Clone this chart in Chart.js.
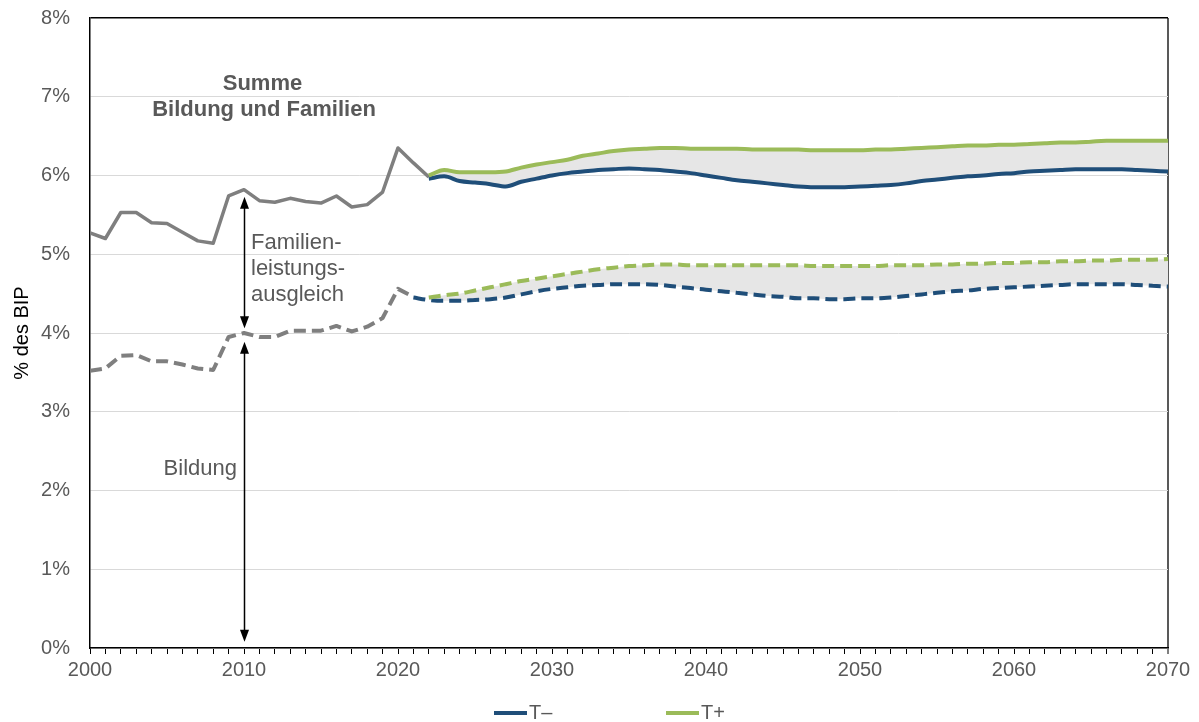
<!DOCTYPE html>
<html>
<head>
<meta charset="utf-8">
<script src="https://cdn.jsdelivr.net/npm/chart.js@4/dist/chart.umd.min.js"></script>
<style>
  html, body { margin: 0; padding: 0; background: #fff; }
  #chart { display: block; }
</style>
</head>
<body>
<canvas id="chart" width="1199" height="722"></canvas>
<script>
// history 2000-2022
const histYears = [2000, 2001, 2002, 2003, 2004, 2005, 2006, 2007, 2008, 2009, 2010,
    2011, 2012, 2013, 2014, 2015, 2016, 2017, 2018, 2019, 2020, 2021, 2022];
const summeHist = [5.27, 5.20, 5.53, 5.53, 5.40, 5.39, 5.28, 5.17, 5.14, 5.74, 5.82,
    5.68, 5.66, 5.71, 5.67, 5.65, 5.74, 5.60, 5.63, 5.79, 6.35, 6.16, 5.98];
const bildungHist = [3.52, 3.55, 3.71, 3.72, 3.64, 3.64, 3.60, 3.55, 3.53, 3.95, 4.00,
    3.95, 3.95, 4.03, 4.03, 4.03, 4.09, 4.02, 4.08, 4.19, 4.56, 4.46, null];

// projections 2021-2070
const projYears = [2021, 2022, 2023, 2024, 2025, 2026, 2027, 2028, 2029, 2030,
    2031, 2032, 2033, 2034, 2035, 2036, 2037, 2038, 2039, 2040,
    2041, 2042, 2043, 2044, 2045, 2046, 2047, 2048, 2049, 2050,
    2051, 2052, 2053, 2054, 2055, 2056, 2057, 2058, 2059, 2060,
    2061, 2062, 2063, 2064, 2065, 2066, 2067, 2068, 2069, 2070];
const tPlusSumme = [null, 6.00, 6.07, 6.04, 6.04, 6.04, 6.05, 6.10, 6.14, 6.17,
    6.20, 6.25, 6.28, 6.31, 6.33, 6.34, 6.35, 6.35, 6.34, 6.34,
    6.34, 6.34, 6.33, 6.33, 6.33, 6.33, 6.32, 6.32, 6.32, 6.32,
    6.33, 6.33, 6.34, 6.35, 6.36, 6.37, 6.38, 6.38, 6.39, 6.39,
    6.40, 6.41, 6.42, 6.42, 6.43, 6.44, 6.44, 6.44, 6.44, 6.44];
const tMinusSumme = [null, 5.96, 5.99, 5.93, 5.91, 5.89, 5.86, 5.92, 5.96, 6.00,
    6.03, 6.05, 6.07, 6.08, 6.09, 6.08, 6.07, 6.05, 6.03, 6.00,
    5.97, 5.94, 5.92, 5.90, 5.88, 5.86, 5.85, 5.85, 5.85, 5.86,
    5.87, 5.88, 5.90, 5.93, 5.95, 5.97, 5.99, 6.00, 6.02, 6.03,
    6.05, 6.06, 6.07, 6.08, 6.08, 6.08, 6.08, 6.07, 6.06, 6.05];
const tPlusBildung = [null, 4.45, 4.48, 4.50, 4.54, 4.58, 4.62, 4.66, 4.69, 4.72,
    4.75, 4.78, 4.81, 4.83, 4.85, 4.86, 4.87, 4.87, 4.86, 4.86,
    4.86, 4.86, 4.86, 4.86, 4.86, 4.86, 4.85, 4.85, 4.85, 4.85,
    4.85, 4.86, 4.86, 4.86, 4.87, 4.87, 4.88, 4.88, 4.89, 4.89,
    4.90, 4.90, 4.91, 4.91, 4.92, 4.92, 4.93, 4.93, 4.93, 4.94];
const tMinusBildung = [4.45, 4.42, 4.41, 4.41, 4.42, 4.43, 4.45, 4.49, 4.53, 4.56,
    4.58, 4.60, 4.61, 4.62, 4.62, 4.62, 4.61, 4.59, 4.57, 4.55,
    4.53, 4.51, 4.49, 4.47, 4.46, 4.44, 4.44, 4.43, 4.43, 4.44,
    4.44, 4.45, 4.47, 4.49, 4.51, 4.53, 4.54, 4.56, 4.57, 4.58,
    4.59, 4.60, 4.61, 4.62, 4.62, 4.62, 4.62, 4.61, 4.60, 4.59];

const yTicks = [0, 1, 2, 3, 4, 5, 6, 7, 8];
const legendItems = [
    { label: 'T\u2013', color: '#1f4e79' },
    { label: 'T+', color: '#9bbb59' }
];

const GRAY = '#7f7f7f';
const BLUE = '#1f4e79';
const GREEN = '#9bbb59';
const TEXT = '#595959';
const FONT = '"Liberation Sans", Arial, sans-serif';
const DASH = [12, 6];

function pts(xs, ys) {
    return xs.map((x, i) => ({ x: x, y: ys[i] }));
}

// arrows, notes and the bottom legend
const notesPlugin = {
    id: 'notes',
    afterDraw(chart) {
        const ctx = chart.ctx;
        const x = chart.scales.x;
        const y = chart.scales.y;

        function arrow(xv, y1, y2) {
            const px = Math.round(x.getPixelForValue(xv)) + 0.5;
            const a = y.getPixelForValue(y1);
            const b = y.getPixelForValue(y2);
            ctx.strokeStyle = '#000';
            ctx.fillStyle = '#000';
            ctx.lineWidth = 1.5;
            ctx.beginPath();
            ctx.moveTo(px, a + 10);
            ctx.lineTo(px, b - 10);
            ctx.stroke();
            ctx.beginPath();
            ctx.moveTo(px, a);
            ctx.lineTo(px - 4.5, a + 12);
            ctx.lineTo(px + 4.5, a + 12);
            ctx.closePath();
            ctx.fill();
            ctx.beginPath();
            ctx.moveTo(px, b);
            ctx.lineTo(px - 4.5, b - 12);
            ctx.lineTo(px + 4.5, b - 12);
            ctx.closePath();
            ctx.fill();
        }

        ctx.save();
        arrow(2010, 5.73, 4.06);
        arrow(2010, 3.89, 0.08);

        ctx.fillStyle = TEXT;
        ctx.textBaseline = 'middle';
        ctx.font = '22px ' + FONT;
        ctx.textAlign = 'left';
        const fx = x.getPixelForValue(2010) + 7;
        ctx.fillText('Familien-', fx, y.getPixelForValue(5.14));
        ctx.fillText('leistungs-', fx, y.getPixelForValue(4.81));
        ctx.fillText('ausgleich', fx, y.getPixelForValue(4.48));
        ctx.textAlign = 'right';
        ctx.fillText('Bildung', x.getPixelForValue(2010) - 7, y.getPixelForValue(2.27));

        ctx.font = 'bold 22px ' + FONT;
        ctx.textAlign = 'center';
        ctx.fillText('Summe', x.getPixelForValue(2011.2), y.getPixelForValue(7.16));
        ctx.fillText('Bildung und Familien', x.getPixelForValue(2011.3), y.getPixelForValue(6.83));

        // legend
        ctx.font = '20px ' + FONT;
        ctx.textAlign = 'left';
        const ly = 713;
        const starts = [494, 666];
        legendItems.forEach((item, i) => {
            ctx.strokeStyle = item.color;
            ctx.lineWidth = 4;
            ctx.beginPath();
            ctx.moveTo(starts[i], ly);
            ctx.lineTo(starts[i] + 33, ly);
            ctx.stroke();
            ctx.fillStyle = TEXT;
            ctx.fillText(item.label, starts[i] + 35, ly);
        });
        ctx.restore();
    }
};

const smooth = { cubicInterpolationMode: 'monotone' };

const ctx = document.getElementById('chart').getContext('2d');
const myChart = new Chart(ctx, {
    type: 'line',
    data: {
        datasets: [
            { label: 'T+ Summe', data: pts(projYears, tPlusSumme), borderColor: GREEN, borderWidth: 4,
              fill: false, ...smooth },
            { label: 'T- Summe', data: pts(projYears, tMinusSumme), borderColor: BLUE, borderWidth: 4,
              fill: { target: 0 }, backgroundColor: '#e6e6e6', ...smooth },
            { label: 'T+ Bildung', data: pts(projYears, tPlusBildung), borderColor: GREEN, borderWidth: 4,
              borderDash: DASH, fill: false, ...smooth },
            { label: 'T- Bildung', data: pts(projYears, tMinusBildung), borderColor: BLUE, borderWidth: 4,
              borderDash: DASH, fill: { target: 2 }, backgroundColor: '#e6e6e6', ...smooth },
            { label: 'Summe', data: pts(histYears, summeHist), borderColor: GRAY, borderWidth: 3.5, fill: false },
            { label: 'Bildung', data: pts(histYears, bildungHist), borderColor: GRAY, borderWidth: 4,
              borderDash: DASH, fill: false }
        ]
    },
    options: {
        responsive: false,
        animation: false,
        devicePixelRatio: 1,
        layout: { padding: { left: 0, right: 31, top: 18, bottom: 34 } },
        elements: {
            point: { radius: 0, hoverRadius: 0 },
            line: { tension: 0, borderCapStyle: 'butt', borderJoinStyle: 'round' }
        },
        plugins: {
            legend: { display: false },
            tooltip: { enabled: false },
            filler: { drawTime: 'beforeDatasetsDraw' }
        },
        scales: {
            x: {
                type: 'linear',
                min: 2000,
                max: 2070,
                afterFit: s => { s.height = 40; s.paddingLeft = 0; s.paddingRight = 0; },
                border: { color: '#000', width: 1.5 },
                grid: {
                    color: c => (c.tick && c.tick.value === 2070) ? '#595959' : 'rgba(0,0,0,0)',
                    lineWidth: c => (c.tick && c.tick.value === 2070) ? 2 : 1,
                    tickColor: '#000',
                    tickLength: 6,
                    tickWidth: 1
                },
                ticks: {
                    stepSize: 1,
                    autoSkip: false,
                    maxRotation: 0,
                    padding: 4,
                    color: TEXT,
                    font: { family: FONT, size: 20 },
                    callback: v => (v % 10 === 0 ? String(v) : '')
                }
            },
            y: {
                min: 0,
                max: 8,
                afterFit: s => { s.width = 90; s.paddingTop = 0; s.paddingBottom = 0; },
                afterBuildTicks: s => { s.ticks = yTicks.map(v => ({ value: v })); },
                border: { color: '#000', width: 1.5 },
                grid: {
                    drawTicks: false,
                    color: c => (c.tick && c.tick.value === 8) ? '#000' : '#d9d9d9',
                    lineWidth: c => (c.tick && c.tick.value === 8) ? 1.5 : 1
                },
                ticks: {
                    padding: 20,
                    color: TEXT,
                    font: { family: FONT, size: 20 },
                    callback: v => v + '%'
                },
                title: {
                    display: true,
                    text: '% des BIP',
                    color: '#000',
                    padding: { top: 10, bottom: 0 },
                    font: { family: FONT, size: 20 }
                }
            }
        }
    },
    plugins: [notesPlugin]
});
</script>
</body>
</html>
